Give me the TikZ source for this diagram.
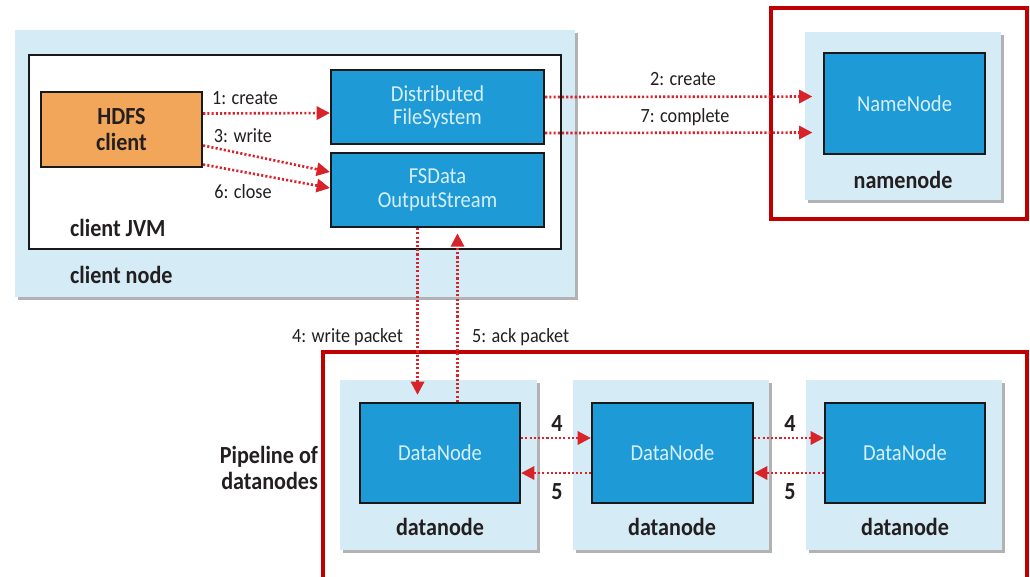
\documentclass[tikz,border=0pt]{standalone}
\usepackage{fontspec}
\setmainfont{Carlito}[FakeStretch=0.9]
\usetikzlibrary{arrows.meta,shadows,calc}
\definecolor{hostfill}{HTML}{D5EBF6}
\definecolor{procfill}{HTML}{1E9AD6}
\definecolor{clientfill}{HTML}{F2A65A}
\definecolor{arrowred}{HTML}{D8232A}
\definecolor{framered}{HTML}{C00000}
\definecolor{darktext}{HTML}{231F20}
\definecolor{lighttext}{HTML}{D6EFFC}
\begin{document}
\begin{tikzpicture}[x=0.02cm,y=-0.02cm,
  sz/.style 2 args={minimum width=#1*0.02cm,minimum height=#2*0.02cm},
  host/.style={fill=hostfill,draw=none,inner sep=0pt,
    drop shadow={shadow xshift=1.6pt,shadow yshift=-1.6pt,fill=black,opacity=0.3}},
  jvmbox/.style={fill=white,draw=black!90,line width=1.5pt,inner sep=0pt},
  proc/.style={fill=procfill,draw=black!90,line width=1.3pt,inner sep=0pt,
    text=lighttext,align=center,font=\fontsize{13}{13.5}\selectfont},
  clientbox/.style={fill=clientfill,draw=black!90,line width=1.3pt,inner sep=0pt,
    text=darktext,align=center,font=\fontsize{14}{14.5}\selectfont\bfseries},
  frame/.style={draw=framered,line width=2.4pt,fill=none,inner sep=0pt},
  lbl/.style={text=darktext,font=\fontsize{11.5}{12}\selectfont,inner sep=1pt},
  blbl/.style={text=darktext,font=\fontsize{14}{14.5}\selectfont\bfseries,inner sep=1pt,align=right},
  dotarrow/.style={draw=arrowred,line width=1.5pt,dash pattern=on 1.2pt off 1.2pt,
    -{Triangle[length=7.5pt,width=7.5pt,fill=arrowred]}}
]
\useasboundingbox (0,0) rectangle (1030,576);
\clip (0,0) rectangle (1030,576);

% client node
\node[host,sz={560}{267}] (cnode) at (295,163.5) {};
\node[jvmbox,sz={532}{194}] (jvm) at (295,152) {};
\node[clientbox,sz={161}{75}] (hdfs) at (121.5,129.5) {HDFS\\client};
\node[proc,sz={213}{74}] (dfs) at (437.5,107) {Distributed\\FileSystem};
\node[proc,sz={213}{74}] (fsd) at (437.5,190) {FSData\\OutputStream};
\node[blbl,anchor=west] (ljvm) at (68,228) {client JVM};
\node[blbl,anchor=west] (lcnode) at (68,275) {client node};

% namenode
\node[frame,sz={256}{211}] (nnframe) at (899,113.5) {};
\node[host,sz={196}{168}] (nnhost) at (903,116) {};
\node[proc,sz={161}{101}] (nn) at (904.5,103.5) {NameNode};
\node[blbl] (lnn) at (903,180) {namenode};

% datanodes
\node[frame,sz={704}{248}] (dnframe) at (675,476) {};
\node[host,sz={197}{170}] (dh1) at (438.5,465) {};
\node[host,sz={196}{170}] (dh2) at (671,465) {};
\node[host,sz={196}{170}] (dh3) at (904,465) {};
\node[proc,sz={160}{100}] (dn1) at (440,453) {DataNode};
\node[proc,sz={161}{100}] (dn2) at (672.5,453) {DataNode};
\node[proc,sz={160}{100}] (dn3) at (905,453) {DataNode};
\node[blbl] (ldn1) at (440,527) {datanode};
\node[blbl] (ldn2) at (672,527) {datanode};
\node[blbl] (ldn3) at (905,527) {datanode};
\node[blbl,anchor=east] (lpipe) at (320,468) {Pipeline of\\datanodes};

% client-side arrows
\draw[dotarrow] ($(hdfs.east)+(0,-16)$) -- ($(dfs.west)+(0,6)$);
\draw[dotarrow] ($(hdfs.east)+(0,16)$) -- ($(fsd.west)+(0,-18)$);
\draw[dotarrow] ($(hdfs.east)+(0,35)$) -- ($(fsd.west)+(0,-2)$);
\node[lbl] (l1) at (245,98) {1: create};
\node[lbl] (l3) at (243,136) {3: write};
\node[lbl] (l6) at (243,192) {6: close};

% namenode arrows
\draw[dotarrow,shorten >=6] ($(dfs.east)+(0,-10)$) -- ($(nn.west)+(0,-7)$);
\draw[dotarrow,shorten >=6] ($(dfs.east)+(0,26)$) -- ($(nn.west)+(0,29)$);
\node[lbl] (l2) at (683,79) {2: create};
\node[lbl] (l7) at (685,117) {7: complete};

% write / ack packet
\coordinate (wp) at ($(fsd.south)+(-20,0)$);
\coordinate (ap) at ($(fsd.south)+(20,0)$);
\draw[dotarrow,shorten >=4] (wp) -- (wp |- dn1.north);
\draw[dotarrow,shorten >=3] (ap |- dn1.north) -- (ap);
\node[lbl,anchor=east] (l4p) at (405,337) {4: write packet};
\node[lbl,anchor=west] (l5p) at (470,337) {5: ack packet};

% pipeline arrows
\draw[dotarrow] ($(dn1.east)+(0,-15)$) -- ($(dn2.west)+(0,-15)$);
\draw[dotarrow] ($(dn2.west)+(0,20)$) -- ($(dn1.east)+(0,20)$);
\draw[dotarrow] ($(dn2.east)+(0,-15)$) -- ($(dn3.west)+(0,-15)$);
\draw[dotarrow] ($(dn3.west)+(0,20)$) -- ($(dn2.east)+(0,20)$);
\node[blbl] (p4a) at (557,424) {4};
\node[blbl] (p5a) at (557,492) {5};
\node[blbl] (p4b) at (790,424) {4};
\node[blbl] (p5b) at (790,492) {5};
\end{tikzpicture}
\end{document}
